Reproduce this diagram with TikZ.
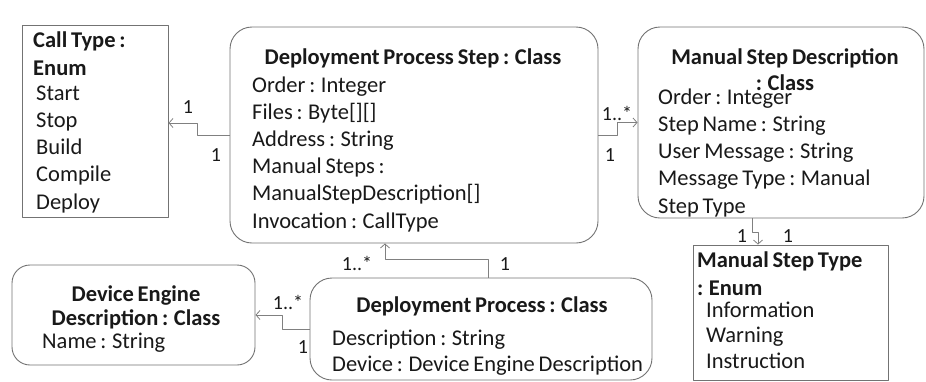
\documentclass[tikz,border=0pt]{standalone}
\usepackage{fontspec}
\setmainfont{Carlito}[WordSpace=0.75]
\usepackage{tikz}
\usetikzlibrary{arrows.meta}
\newcommand{\umlsize}{\fontsize{22.5}{27.2}\selectfont}

\begin{document}
\begin{tikzpicture}[x=1pt,y=-1pt,>={Straight Barb[length=4pt,width=9pt]},line join=round,
  box/.style={draw=black!55,line width=0.9pt,fill=white,inner sep=0pt},
  cls/.style={box,rounded corners=22pt},
  enm/.style={box},
  ttl/.style={inner sep=0pt,font=\umlsize\bfseries,text=black!90},
  attr/.style={inner sep=0pt,font=\umlsize,align=left,anchor=base west,text=black!90},
  assoc/.style={draw=black!50,line width=0.8pt},
  mult/.style={inner sep=0pt,font=\fontsize{20}{24}\selectfont,text=black!90}]
  \useasboundingbox (0,0) rectangle (926,381);
  % boxes
  \node[enm,minimum width=146pt,minimum height=192pt] (calltype) at (95,121) {};
  \node[cls,minimum width=368pt,minimum height=216pt] (dps) at (414,135) {};
  \node[cls,minimum width=286pt,minimum height=191pt] (msd) at (781,122.5) {};
  \node[enm,minimum width=195pt,minimum height=135pt] (mst) at (790.5,312.5) {};
  \node[cls,rounded corners=18pt,minimum width=243pt,minimum height=100pt] (ded) at (133.5,315) {};
  \node[cls,minimum width=342pt,minimum height=102pt] (dp) at (481,329) {};
  % texts (multi-line nodes sit on their last baseline)
  \node[ttl,anchor=base west,align=left] (ct-t) at (33,75) {Call Type :\\Enum};
  \node[attr] (ct-a) at (36,209) {Start\\Stop\\Build\\Compile\\Deploy};
  \node[ttl,anchor=base] (dps-t) at (413,64) {Deployment Process Step : Class};
  \node[attr] (dps-a) at (252,228) {Order : Integer\\Files : Byte[][]\\Address : String\\Manual Steps :\\ManualStepDescription[]\\Invocation : CallType};
  \node[attr] (msd-a) at (658,213) {Order : Integer\\Step Name : String\\User Message : String\\Message Type : Manual\\Step Type};
  \node[ttl,anchor=base] (msd-t1) at (785,64) {Manual Step Description};
  \node[ttl,anchor=base] (msd-t2) at (785,90) {: Class};
  \node[ttl,anchor=base west,align=left] (mst-t) at (697,295) {Manual Step Type\\: Enum};
  \node[attr,font={\fontsize{22.5}{25.5}\selectfont}] (mst-a) at (706,368) {Information\\Warning\\Instruction};
  \node[ttl,anchor=base,align=center,font={\fontsize{22.5}{24}\selectfont\bfseries}] (ded-t) at (136,325) {Device Engine\\Description : Class};
  \node[attr] (ded-a) at (42,348) {Name : String};
  \node[ttl,anchor=base] (dp-t) at (482,312) {Deployment Process : Class};
  \node[attr,font={\fontsize{22.5}{26}\selectfont}] (dp-a) at (332,371) {Description : String\\Device : Device Engine Description};
  % associations
  \draw[assoc,->] (dps.west) -- ++(-32,0) |- (calltype.east |- 0,123);
  \draw[assoc,->] (dps.east) -- ++(19,0) |- (msd.west);
  \draw[assoc,->] (msd.south -| 752,0) -- ++(0,14) -| (mst.north -| 758,0);
  \draw[assoc,->] (dp.north -| 488,0) -- ++(0,-18) -| (dps.south -| 385,0);
  \draw[assoc,->] (dp.west) -- ++(-27,0) |- (ded.east);
  % multiplicities
  \node[mult] (m1) at (188,107) {1};
  \node[mult] (m2) at (216,155) {1};
  \node[mult] (m3) at (617,113) {1..*};
  \node[mult] (m4) at (610,155) {1};
  \node[mult] (m5) at (742,236) {1};
  \node[mult] (m6) at (788,236) {1};
  \node[mult] (m7) at (357,263) {1..*};
  \node[mult] (m8) at (505,264) {1};
  \node[mult] (m9) at (288,302) {1..*};
  \node[mult] (m10) at (303,347) {1};
\end{tikzpicture}
\end{document}
